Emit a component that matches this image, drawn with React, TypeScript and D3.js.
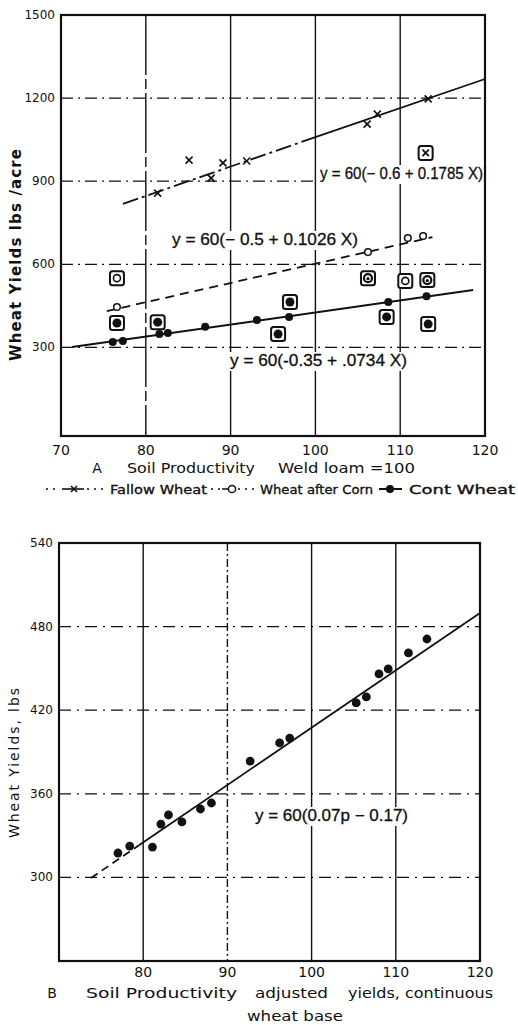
import React from "react";
import * as d3 from "d3";

// ---------- Panel A data ----------
const xTicksA = [70, 80, 90, 100, 110, 120];
const yTicksA = [300, 600, 900, 1200, 1500];
const gridXA = [80, 90, 100, 110];
const gridYA = [300, 600, 900, 1200];

const fallowX = [81.4, 85.1, 87.7, 89.1, 91.9, 106.1, 107.3, 113.3];
const fallowY = [857, 976, 911, 966, 973, 1106, 1142, 1197];
const fallowFitX = [77.3, 100, 120];
const fallowFitY = [818, 1059, 1269];

const cornX = [76.6, 106.2, 110.9, 112.7];
const cornY = [446, 644, 695, 702];
const cornFitX = [75.4, 113.8];
const cornFitY = [431, 698];

const contX = [76.1, 77.3, 81.6, 82.6, 87.0, 93.1, 96.9, 108.6, 113.1];
const contY = [319, 323, 348, 352, 374, 399, 410, 464, 485];
const contFitX = [71.3, 118.6];
const contFitY = [301, 507];

const boxedX = [76.6, 76.6, 81.4, 95.6, 97.0, 106.2, 108.4, 110.6, 113.2, 113.3];
const boxedY = [550, 388, 391, 348, 464, 550, 410, 540, 543, 384];
const boxedKind = ["open", "filled", "filled", "filled", "filled", "ring", "filled", "open", "ring", "filled"];
const boxedFallowX = [113.0];
const boxedFallowY = [1002];

const eqA = [
  "y = 60(\u2212 0.6 + 0.1785 X)",
  "y = 60(\u2212 0.5 + 0.1026 X)",
  "y = 60(-0.35 + .0734 X)",
];
const yLabelA = "Wheat  Yields  lbs /acre";
const legendLabels = ["Fallow Wheat", "Wheat after Corn", "Cont Wheat"];

// ---------- Panel B data ----------
const xTicksB = [80, 90, 100, 110, 120];
const yTicksB = [300, 360, 420, 480, 540];
const gridXB = [80, 90, 100, 110];
const gridYB = [300, 360, 420, 480];
const bX = [77.0, 78.4, 81.1, 82.1, 83.0, 84.6, 86.8, 88.1, 92.7, 96.2, 97.4, 105.3, 106.5, 108.0, 109.1, 111.5, 113.7];
const bY = [317.5, 322.5, 321.8, 338.3, 344.8, 339.8, 349.1, 353.4, 383.5, 396.5, 400.0, 425.2, 429.5, 446.0, 449.6, 461.1, 471.1];
const bFitX = [73.8, 79.5, 120];
const bFitY = [299.6, 323.1, 489.8];
const eqB = "y = 60(0.07p \u2212 0.17)";

const FONT = "'DejaVu Sans', sans-serif";
const EQFONT = "'Liberation Sans', Arial, sans-serif";
const INK = "#111";

const xA = d3.scaleLinear().domain([70, 120]).range([61, 485]);
const yA = d3.scaleLinear().domain([-20, 1500]).range([436, 15]);
const xB = d3.scaleLinear().domain([70, 120]).range([59, 480]);
const yB = d3.scaleLinear().domain([240, 540]).range([961, 543]);

const zip = (xs: number[], ys: number[]) => xs.map((x, i) => [x, ys[i]] as [number, number]);

function Cross({ cx, cy, s = 3.5, w = 1.6 }: any) {
  return (
    <g stroke={INK} strokeWidth={w}>
      <line x1={cx - s} y1={cy - s} x2={cx + s} y2={cy + s} />
      <line x1={cx - s} y1={cy + s} x2={cx + s} y2={cy - s} />
    </g>
  );
}

function Boxed({ cx, cy, kind }: any) {
  return (
    <g>
      <rect x={cx - 7} y={cy - 7} width={14} height={14} rx={2.5} fill="#fff" stroke={INK} strokeWidth={2} />
      {kind === "open" && <circle cx={cx} cy={cy} r={3.5} fill="#fff" stroke={INK} strokeWidth={1.6} />}
      {kind === "ring" && (
        <g>
          <circle cx={cx} cy={cy} r={4} fill="#fff" stroke={INK} strokeWidth={2.2} />
          <circle cx={cx} cy={cy + 0.5} r={1.6} fill={INK} />
        </g>
      )}
      {kind === "filled" && <circle cx={cx} cy={cy} r={4.5} fill={INK} />}
      {kind === "x" && <Cross cx={cx} cy={cy} s={3.2} w={1.8} />}
    </g>
  );
}

function Label({ x, y, text, len, size = 16 }: any) {
  return (
    <g>
      <rect x={x - 3} y={y - size + 2} width={len + 6} height={size + 3} fill="#fff" />
      <text x={x} y={y} fontSize={size} fontFamily={EQFONT} textLength={len} lengthAdjust="spacingAndGlyphs"
        fill={INK} stroke={INK} strokeWidth={0.3}>
        {text}
      </text>
    </g>
  );
}

export default function App() {
  const lineA = (xs: number[], ys: number[]) =>
    d3.line().x((d) => xA(d[0])).y((d) => yA(d[1]))(zip(xs, ys)) as string;
  const lineB = (xs: number[], ys: number[]) =>
    d3.line().x((d) => xB(d[0])).y((d) => yB(d[1]))(zip(xs, ys)) as string;

  const [a0, a1] = xA.range();
  const [b0, b1] = xB.range();

  return (
    <svg
      width={518}
      height={1025}
      style={{ position: "absolute", left: 0, top: 0, background: "#fff" }}
      fontFamily={FONT}
    >
      <rect width={518} height={1025} fill="#fff" />

      {/* ================= PANEL A ================= */}
      {gridYA.map((v) => (
        <line key={"gya" + v} x1={a0} x2={a1} y1={yA(v)} y2={yA(v)} stroke={INK} strokeWidth={1.2} strokeDasharray="12,5,2,5" />
      ))}
      {gridXA.map((v) => (
        <line key={"gxa" + v} x1={xA(v)} x2={xA(v)} y1={yA(1500)} y2={yA(-20)} stroke={INK} strokeWidth={1.4}
          strokeDasharray={v === 80 ? "60,4,10,4" : undefined} />
      ))}

      <Label x={320} y={179} text={eqA[0]} len={163} />
      <Label x={172} y={245} text={eqA[1]} len={186} />
      <Label x={230} y={366} text={eqA[2]} len={177} />

      {/* fit lines */}
      <path d={lineA(fallowFitX.slice(0, 2), fallowFitY.slice(0, 2))} fill="none" stroke={INK} strokeWidth={1.8} strokeDasharray="16,4,3,4" />
      <path d={lineA(fallowFitX.slice(1), fallowFitY.slice(1))} fill="none" stroke={INK} strokeWidth={1.8} />
      <path d={lineA(cornFitX, cornFitY)} fill="none" stroke={INK} strokeWidth={1.8} strokeDasharray="9,6" />
      <path d={lineA(contFitX, contFitY)} fill="none" stroke={INK} strokeWidth={2} />

      {/* markers */}
      {fallowX.map((x, i) => (
        <Cross key={"fw" + i} cx={xA(x)} cy={yA(fallowY[i])} />
      ))}
      {cornX.map((x, i) => (
        <circle key={"wc" + i} cx={xA(x)} cy={yA(cornY[i])} r={3.3} fill="#fff" stroke={INK} strokeWidth={1.5} />
      ))}
      {contX.map((x, i) => (
        <circle key={"cw" + i} cx={xA(x)} cy={yA(contY[i])} r={4} fill={INK} />
      ))}
      {boxedX.map((x, i) => (
        <Boxed key={"bx" + i} cx={xA(x)} cy={yA(boxedY[i])} kind={boxedKind[i]} />
      ))}
      {boxedFallowX.map((x, i) => (
        <Boxed key={"bf" + i} cx={xA(x)} cy={yA(boxedFallowY[i])} kind="x" />
      ))}

      {/* frame */}
      <rect x={a0} y={yA(1500)} width={a1 - a0} height={yA(-20) - yA(1500)} fill="none" stroke={INK} strokeWidth={2.2} />

      {/* ticks */}
      {xTicksA.map((v) => (
        <text key={"xta" + v} x={xA(v)} y={455} fontSize={14} textAnchor="middle" fill={INK}>{v}</text>
      ))}
      {yTicksA.map((v) => (
        <text key={"yta" + v} x={55} y={yA(v) + 4} fontSize={12} textAnchor="end" fill={INK}>{v}</text>
      ))}

      <text transform="translate(21,255) rotate(-90)" fontSize={15} fontWeight="bold" textAnchor="middle"
        fill={INK} textLength={212} lengthAdjust="spacing">{yLabelA}</text>

      <text x={97} y={473} fontSize={14} textAnchor="middle" fill={INK}>A</text>
      <text x={127} y={473} fontSize={14} fill={INK} textLength={128} lengthAdjust="spacingAndGlyphs">Soil Productivity</text>
      <text x={278} y={473} fontSize={14} fill={INK} textLength={137} lengthAdjust="spacingAndGlyphs">Weld  loam =100</text>

      {/* legend */}
      <g stroke={INK}>
        <line x1={46} x2={60} y1={489} y2={489} strokeWidth={1.5} strokeDasharray="2,5" />
        <line x1={62} x2={84} y1={489} y2={489} strokeWidth={1.6} />
        <line x1={87} x2={104} y1={489} y2={489} strokeWidth={1.5} strokeDasharray="2,5" />
        <line x1={211} x2={222} y1={489} y2={489} strokeWidth={1.5} strokeDasharray="2,5" />
        <line x1={222} x2={228} y1={489} y2={489} strokeWidth={1.5} />
        <line x1={238} x2={256} y1={489} y2={489} strokeWidth={1.5} strokeDasharray="2,5" />
        <line x1={379} x2={402} y1={489} y2={489} strokeWidth={2} />
      </g>
      <Cross cx={74} cy={489} s={3} w={1.6} />
      <circle cx={232} cy={489} r={3.6} fill="#fff" stroke={INK} strokeWidth={1.5} />
      <circle cx={390} cy={489} r={4} fill={INK} />
      <g fill={INK} stroke={INK} strokeWidth={0.35} fontSize={13}>
        <text x={110} y={494} textLength={97} lengthAdjust="spacingAndGlyphs">{legendLabels[0]}</text>
        <text x={260} y={494} textLength={113} lengthAdjust="spacingAndGlyphs">{legendLabels[1]}</text>
        <text x={409} y={494} textLength={106} lengthAdjust="spacingAndGlyphs">{legendLabels[2]}</text>
      </g>

      {/* ================= PANEL B ================= */}
      {gridYB.map((v) => (
        <line key={"gyb" + v} x1={b0} x2={b1} y1={yB(v)} y2={yB(v)} stroke={INK} strokeWidth={1.2} strokeDasharray="12,6,2,6" />
      ))}
      {gridXB.map((v) => (
        <line key={"gxb" + v} x1={xB(v)} x2={xB(v)} y1={yB(540)} y2={yB(240)} stroke={INK} strokeWidth={1.4}
          strokeDasharray={v === 90 ? "8,3,2,3" : undefined} />
      ))}

      <Label x={255} y={821} text={eqB} len={153} />

      <path d={lineB(bFitX.slice(0, 2), bFitY.slice(0, 2))} fill="none" stroke={INK} strokeWidth={1.8} strokeDasharray="8,5" />
      <path d={lineB(bFitX.slice(1), bFitY.slice(1))} fill="none" stroke={INK} strokeWidth={1.8} />

      {bX.map((x, i) => (
        <circle key={"bd" + i} cx={xB(x)} cy={yB(bY[i])} r={4.4} fill={INK} />
      ))}

      <rect x={b0} y={yB(540)} width={b1 - b0} height={yB(240) - yB(540)} fill="none" stroke={INK} strokeWidth={2.2} />

      {xTicksB.map((v) => (
        <text key={"xtb" + v} x={xB(v)} y={977} fontSize={14} textAnchor="middle" fill={INK}>{v}</text>
      ))}
      {yTicksB.map((v) => (
        <text key={"ytb" + v} x={53} y={yB(v) + 4} fontSize={12} textAnchor="end" fill={INK}>{v}</text>
      ))}

      <text transform="translate(19,763) rotate(-90)" fontSize={14} textAnchor="middle" fill={INK}
        textLength={150} lengthAdjust="spacing">Wheat  Yields, lbs</text>

      <text x={52} y={998} fontSize={14} textAnchor="middle" fill={INK}>B</text>
      <text x={86} y={998} fontSize={14} fill={INK} textLength={151} lengthAdjust="spacingAndGlyphs">Soil Productivity</text>
      <text x={255} y={998} fontSize={14} fill={INK} textLength={73} lengthAdjust="spacingAndGlyphs">adjusted</text>
      <text x={348} y={998} fontSize={14} fill={INK} textLength={145} lengthAdjust="spacingAndGlyphs">yields, continuous</text>
      <text x={295} y={1021} fontSize={14} textAnchor="middle" fill={INK} textLength={96} lengthAdjust="spacingAndGlyphs">wheat  base</text>
    </svg>
  );
}
